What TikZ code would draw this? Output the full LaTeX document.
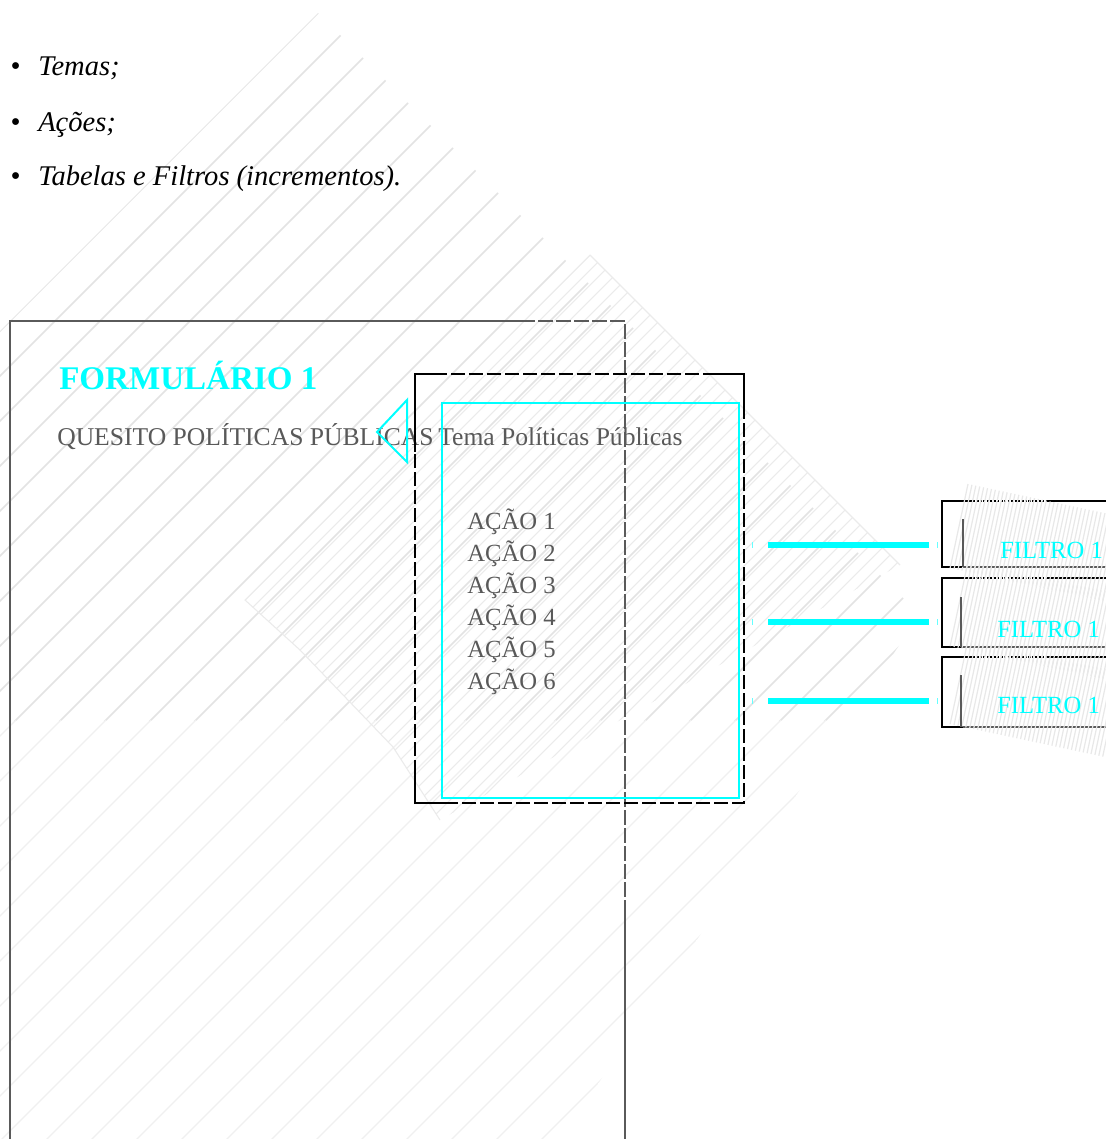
\documentclass[tikz,border=0pt]{standalone}
\usepackage{fontspec}
\setmainfont{Liberation Serif}
\definecolor{cy}{HTML}{00FFFF}
\definecolor{txtgray}{HTML}{595959}
\definecolor{boxgray}{HTML}{5A5A5A}
\begin{document}
\begin{tikzpicture}[x=0.75pt,y=-0.75pt,
  hatchA/.style={draw=black!11, line width=1.1pt},
  hatchB/.style={draw=black!6, line width=1pt},
  hatchC/.style={draw=black!8, line width=0.8pt},
  hatchF/.style={draw=black!9, line width=0.9pt},
  formline/.style={draw=boxgray, line width=1.5pt},
  bkline/.style={draw=black, line width=1.6pt},
  cyline/.style={draw=cy, line width=1.5pt},
  conn/.style={draw=cy, line width=3.8pt},
  tick/.style={draw=cy!60, line width=0.6pt},
  bullettxt/.style={anchor=base west, inner sep=0pt, font=\fontsize{21.4}{25}\selectfont\itshape},
  graytxt/.style={anchor=base west, inner sep=0pt, text=txtgray, font=\fontsize{18.5}{22}\selectfont},
  graytxtb/.style={anchor=base west, inner sep=0pt, text=txtgray, font=\fontsize{19.2}{22}\selectfont},
  cytxt/.style={anchor=base west, inner sep=0pt, text=cy, font=\fontsize{18.5}{22}\selectfont},
  boxnode/.style={anchor=north west, inner sep=0pt, outer sep=0pt, draw=none}
]
\useasboundingbox (0,0) rectangle (1106,1139);
\fill[white] (0,0) rectangle (1106,1139);

% ---------- background hatching ----------
\begin{scope}
  \clip (318,13) -- (920,615) -- (560,1139) -- (0,1139) -- (0,331) -- cycle;
  \clip (0,0) rectangle (1106,720);
  \foreach \i in {0,...,40} \draw[hatchA] ({331+45*\i},0) -- ({331+45*\i-1400},1400);
\end{scope}
\begin{scope}
  \clip (318,13) -- (920,615) -- (560,1139) -- (0,1139) -- (0,331) -- cycle;
  \clip (0,720) rectangle (1106,1139);
  \foreach \i in {0,...,40} \draw[hatchB] ({331+45*\i},0) -- ({331+45*\i-1400},1400);
\end{scope}
% second, denser hatched diamond
\draw[hatchC] (590,255) -- (245,600) -- (300,650) -- (393,747) -- (440,820);
\begin{scope}
  \clip (590,255) -- (900,565) -- (440,820) -- (393,747) -- (300,650) -- (245,600) -- cycle;
  \foreach \i in {0,...,70} \draw[hatchC] ({845+15*\i},0) -- ({845+15*\i-1400},1400);
\end{scope}
\draw[hatchC] (590,255) -- (900,565);

% ---------- bullets ----------
\node[bullettxt] (b1d) at (10,75) {•};
\node[bullettxt] (b1) at (38,75) {Temas;};
\node[bullettxt] (b2d) at (10,131) {•};
\node[bullettxt] (b2) at (38,131) {Ações;};
\node[bullettxt] (b3d) at (10,185) {•};
\node[bullettxt] (b3) at (38,185) {Tabelas e Filtros (incrementos).};

% ---------- form box ----------
\draw[formline] (520,321) -- (10,321) -- (10,1150);
\draw[formline, dash pattern=on 11pt off 2.5pt] (520,321) -- (625,321) -- (625,912);
\draw[formline] (625,912) -- (625,1150);

\node[anchor=base west, inner sep=0pt, text=cy, font=\fontsize{24.8}{30}\selectfont\bfseries] (form) at (59,389) {FORMULÁRIO 1};
\node[graytxtb] (ques) at (57,445) {QUESITO POLÍTICAS PÚBLICAS};
\node[graytxtb] (tema) at (438,445) {Tema Políticas Públicas};

% triangle
\draw[cyline] (407,400) -- (377,432) -- (407,462) -- cycle;

% ---------- action box ----------
\node[boxnode, minimum width={329*0.75pt}, minimum height={429*0.75pt}] (act) at (415,374) {};
\draw[bkline, dash pattern=on 10.5pt off 3pt] (act.north west) -- (act.north east) -- (act.south east) -- (act.south west) -- cycle;
\draw[bkline] (441,374) -- (415,374) -- (415,452);
\draw[bkline] (712,374) -- (744,374) -- (744,410);
\draw[bkline] (415,770) -- (415,803) -- (447,803);
\node[boxnode, minimum width={297*0.75pt}, minimum height={395*0.75pt}, draw=cy, line width=1.5pt] (inner) at (442,403) {};

\node[graytxt] (a1) at (467,529) {AÇÃO 1};
\node[graytxt] (a2) at (467,561) {AÇÃO 2};
\node[graytxt] (a3) at (467,593) {AÇÃO 3};
\node[graytxt] (a4) at (467,625) {AÇÃO 4};
\node[graytxt] (a5) at (467,657) {AÇÃO 5};
\node[graytxt] (a6) at (467,689) {AÇÃO 6};

% ---------- filter boxes ----------
\node[boxnode, minimum width={200*0.75pt}, minimum height={66*0.75pt}] (f1) at (942,501) {};
\node[boxnode, minimum width={200*0.75pt}, minimum height={69*0.75pt}] (f2) at (942,578) {};
\node[boxnode, minimum width={200*0.75pt}, minimum height={70*0.75pt}] (f3) at (942,657) {};
\foreach \f in {f1,f2,f3} {
  \draw[bkline] ([xshift={23*0.75pt}]\f.south west) -- (\f.south west) -- (\f.north west) -- ([xshift={24*0.75pt}]\f.north west);
  \draw[bkline, densely dotted] ([xshift={24*0.75pt}]\f.north west) -- ([xshift={105*0.75pt}]\f.north west);
  \draw[bkline] ([xshift={105*0.75pt}]\f.north west) -- (\f.north east);
  \draw[draw=boxgray, line width=1.5pt] ([xshift={21*0.75pt}]\f.south west) -- (\f.south east);
}
% rotated hatching over the filter boxes
\foreach \t in {484,562,640} {
  \begin{scope}[shift={(968,\t)}, rotate=-12]
    \foreach \u in {0,4,...,200} \draw[hatchF] (\u,0) -- (\u,86);
  \end{scope}
}
\draw[draw=boxgray, line width=1.5pt] (963,519) -- (f1.south west -| 963,0);
\draw[draw=boxgray, line width=1.5pt] (961,597) -- (f2.south west -| 961,0);
\draw[draw=boxgray, line width=1.5pt] (961,675) -- (f3.south west -| 961,0);

\node[cytxt] (ft1) at (1000,558) {FILTRO 1};
\node[cytxt] (ft2) at (997,637) {FILTRO 1};
\node[cytxt] (ft3) at (997,713) {FILTRO 1};

% ---------- connectors ----------
\coordinate (c1a) at (768,545); \coordinate (c1b) at (929,545);
\coordinate (c2a) at (768,622); \coordinate (c2b) at (929,622);
\coordinate (c3a) at (768,701); \coordinate (c3b) at (929,701);
\draw[conn] (c1a) -- (c1b);
\draw[conn] (c2a) -- (c2b);
\draw[conn] (c3a) -- (c3b);
\foreach \y in {545,622,701} {
  \draw[tick] (752,\y-3) -- (752,\y+3);
  \draw[tick] (937,\y-3) -- (937,\y+3);
}
\end{tikzpicture}
\end{document}
